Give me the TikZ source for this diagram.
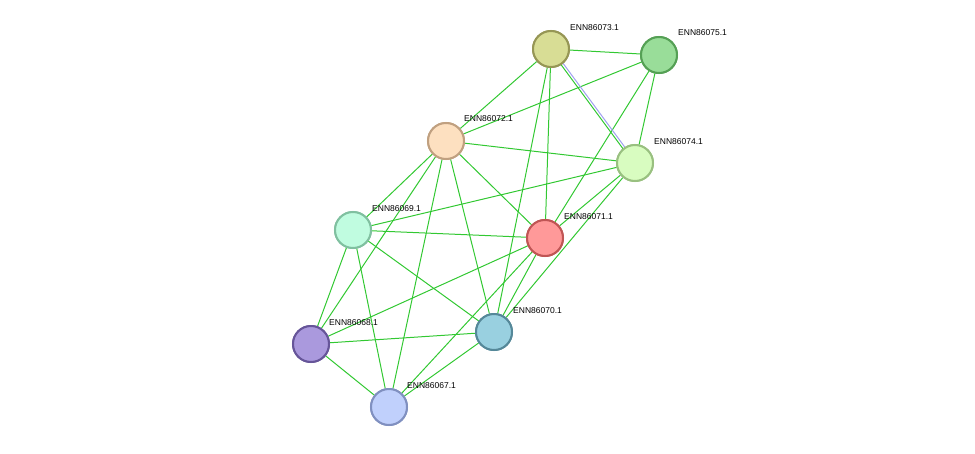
\documentclass[tikz,border=0pt]{standalone}
\usepackage{fontspec}
\setmainfont{Liberation Sans}
\begin{document}
\begin{tikzpicture}[x=1pt,y=-1pt,
  prot/.style={circle,minimum size=36pt,inner sep=0pt,line width=2pt},
  lab/.style={anchor=west,font=\fontsize{8.5}{10}\selectfont,inner sep=0pt},
  e/.style={draw={rgb,255:red,50;green,200;blue,50},line width=1pt}]
\useasboundingbox (0,0) rectangle (975,453);
\definecolor{gr}{RGB}{50,200,50}
\node[prot,fill={rgb,255:red,216;green,221;blue,149},draw={rgb,255:red,150;green,150;blue,85}] (n73) at (551,49) {};
\node[prot,fill={rgb,255:red,153;green,221;blue,153},draw={rgb,255:red,85;green,160;blue,85}] (n75) at (659,55) {};
\node[prot,fill={rgb,255:red,253;green,224;blue,192},draw={rgb,255:red,192;green,160;blue,128}] (n72) at (446,141) {};
\node[prot,fill={rgb,255:red,216;green,252;blue,192},draw={rgb,255:red,153;green,192;blue,128}] (n74) at (635,163) {};
\node[prot,fill={rgb,255:red,192;green,252;blue,224},draw={rgb,255:red,128;green,192;blue,160}] (n69) at (353,230) {};
\node[prot,fill={rgb,255:red,255;green,153;blue,153},draw={rgb,255:red,192;green,85;blue,85}] (n71) at (545,238) {};
\node[prot,fill={rgb,255:red,153;green,208;blue,224},draw={rgb,255:red,85;green,136;blue,153}] (n70) at (494,332) {};
\node[prot,fill={rgb,255:red,170;green,153;blue,221},draw={rgb,255:red,102;green,85;blue,153}] (n68) at (311,344) {};
\node[prot,fill={rgb,255:red,192;green,208;blue,252},draw={rgb,255:red,128;green,144;blue,192}] (n67) at (389,407) {};
\begin{scope}[on background layer/.style={}]
\end{scope}
\begin{pgfonlayer}{main}\end{pgfonlayer}
\foreach \a/\b in {73/75,73/72,73/71,73/70,75/72,75/74,75/71,72/74,72/69,72/71,72/70,72/68,72/67,74/69,74/71,74/70,69/71,69/70,69/68,69/67,71/68,71/70,71/67,70/68,70/67,68/67}
  \path[e] (n\a) -- (n\b);
\path[draw={rgb,255:red,160;green,160;blue,240},line width=1pt] ([xshift=1.5pt]n73.center)++(0,0) -- ([xshift=1.5pt]n74.center);
\path[e] ([xshift=-1.5pt]n73.center) -- ([xshift=-1.5pt]n74.center);
% redraw nodes on top
\foreach \n/\f/\d in {73/{216,221,149}/{150,150,85},75/{153,221,153}/{85,160,85},72/{253,224,192}/{192,160,128},74/{216,252,192}/{153,192,128},69/{192,252,224}/{128,192,160},71/{255,153,153}/{192,85,85},70/{153,208,224}/{85,136,153},68/{170,153,221}/{102,85,153},67/{192,208,252}/{128,144,192}}{
  \definecolor{fc}{RGB}{\f}\definecolor{dc}{RGB}{\d}
  \fill[fc,draw=dc,line width=2pt] (n\n.center) circle (18pt);}
\node[lab] (l73) at (570,28) {ENN86073.1};
\node[lab] (l75) at (678,33) {ENN86075.1};
\node[lab] (l72) at (464,119) {ENN86072.1};
\node[lab] (l74) at (654,142) {ENN86074.1};
\node[lab] (l69) at (372,209) {ENN86069.1};
\node[lab] (l71) at (564,217) {ENN86071.1};
\node[lab] (l70) at (513,311) {ENN86070.1};
\node[lab] (l68) at (329,323) {ENN86068.1};
\node[lab] (l67) at (407,386) {ENN86067.1};
\end{tikzpicture}
\end{document}
